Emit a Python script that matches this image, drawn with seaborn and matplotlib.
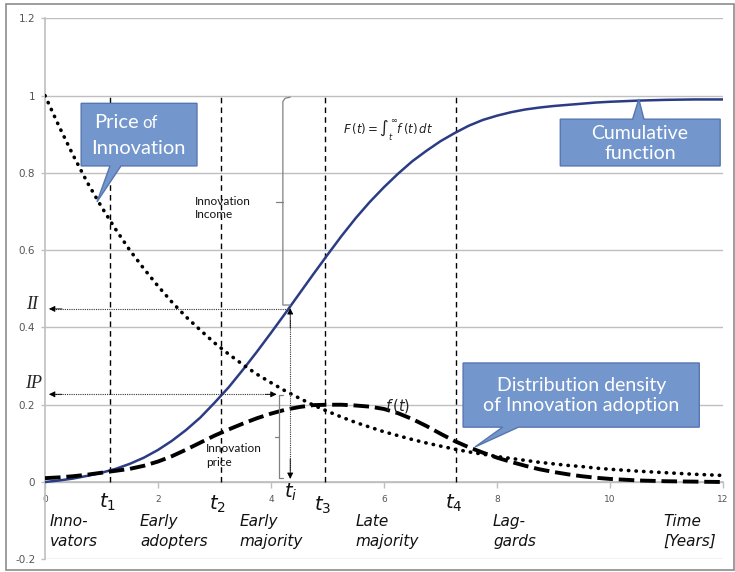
import matplotlib.pyplot as plt
import pandas as pd
import seaborn as sns
from matplotlib.patches import Polygon, Rectangle

# values
years = [0.0, 0.25, 0.5, 0.75, 1.0, 1.25, 1.5, 1.75, 2.0, 2.25, 2.5, 2.75,
         3.0, 3.25, 3.5, 3.75, 4.0, 4.25, 4.5, 4.75, 5.0, 5.25, 5.5, 5.75,
         6.0, 6.25, 6.5, 6.75, 7.0, 7.25, 7.5, 7.75, 8.0, 8.25, 8.5, 8.75,
         9.0, 9.25, 9.5, 9.75, 10.0, 10.5, 11.0, 11.5, 12.0]
cumulative = [0.0, 0.004, 0.009, 0.016, 0.024, 0.034, 0.047, 0.063, 0.083,
              0.107, 0.135, 0.167, 0.205, 0.245, 0.29, 0.337, 0.386, 0.436,
              0.487, 0.538, 0.588, 0.637, 0.683, 0.725, 0.763, 0.798, 0.83,
              0.857, 0.882, 0.903, 0.922, 0.937, 0.948, 0.957, 0.964, 0.969,
              0.973, 0.976, 0.979, 0.982, 0.984, 0.987, 0.989, 0.99, 0.99]
density = [0.01, 0.012, 0.015, 0.019, 0.024, 0.029, 0.034, 0.042, 0.053,
           0.067, 0.084, 0.102, 0.12, 0.136, 0.151, 0.165, 0.177, 0.187,
           0.194, 0.199, 0.2, 0.2, 0.198, 0.195, 0.189, 0.178, 0.163, 0.145,
           0.125, 0.106, 0.09, 0.076, 0.063, 0.052, 0.042, 0.033, 0.026,
           0.02, 0.015, 0.011, 0.008, 0.004, 0.002, 0.001, 0.0]
price = [1.0, 0.92, 0.845, 0.775, 0.712, 0.654, 0.6, 0.552, 0.507, 0.465,
         0.427, 0.393, 0.36, 0.331, 0.304, 0.279, 0.257, 0.236, 0.217, 0.199,
         0.183, 0.168, 0.154, 0.142, 0.13, 0.12, 0.11, 0.101, 0.093, 0.085,
         0.078, 0.072, 0.066, 0.061, 0.056, 0.051, 0.047, 0.043, 0.04, 0.036,
         0.033, 0.028, 0.024, 0.02, 0.017]

phase_bounds = [1.15, 3.11, 4.96, 7.28]
phase_subs = ["1", "2", "3", "4"]
t_i = 4.34
income_level = 0.448
price_level = 0.227

groups = ["Inno-\nvators", "Early\nadopters", "Early\nmajority",
          "Late\nmajority", "Lag-\ngards", "Time\n[Years]"]
group_x = [0.09, 1.68, 3.45, 5.49, 7.93, 10.94]

x_ticks = [0, 2, 4, 6, 8, 10, 12]
y_ticks = [-0.2, 0, 0.2, 0.4, 0.6, 0.8, 1.0, 1.2]
y_tick_labels = ["-0.2", "0", "0.2", "0.4", "0.6", "0.8", "1", "1.2"]

df = pd.DataFrame({"t": years, "F": cumulative, "f": density, "p": price})

sns.set_theme(style="white")
plt.rcParams["font.family"] = ["DejaVu Sans"]
plt.rcParams["mathtext.fontset"] = "dejavusans"

fig = plt.figure(figsize=(7.35, 5.72), dpi=100)
ax = fig.add_axes([45 / 735, 1 - 559.3 / 572, 678 / 735, 541 / 572])

grid_c = "#BFBFBF"
for yv in y_ticks:
    ax.axhline(yv, color=grid_c, lw=1, zorder=0)

# curves
sns.lineplot(data=df, x="t", y="F", ax=ax, color="#2B3C84", lw=1.8, zorder=4)
sns.lineplot(data=df, x="t", y="f", ax=ax, color="black", lw=2.8,
             linestyle=(0, (4, 1.5)), zorder=4)
sns.lineplot(data=df, x="t", y="p", ax=ax, color="black", lw=2.6,
             linestyle=(0, (0.1, 2)), dash_capstyle="round", zorder=4)

ax.vlines(phase_bounds, 0, 1, colors="black", lw=1, linestyles=(0, (4, 3)), zorder=3)

ax.set_xlim(0, 12)
ax.set_ylim(-0.2, 1.2)
ax.set_xlabel("")
ax.set_ylabel("")
ax.set_xticks(x_ticks)
ax.set_xticklabels([str(v) for v in x_ticks])
ax.set_yticks(y_ticks)
ax.set_yticklabels(y_tick_labels)
ax.tick_params(axis="x", length=4, width=1, color=grid_c, pad=5,
               labelsize=6.5, labelcolor="#555555", direction="out", bottom=True)
ax.tick_params(axis="y", length=3, width=1, color=grid_c, pad=4,
               labelsize=7.5, labelcolor="#555555", left=True)
for side in ["top", "right"]:
    ax.spines[side].set_visible(False)
ax.spines["bottom"].set_position(("data", 0))
ax.spines["bottom"].set_color(grid_c)
ax.spines["left"].set_color(grid_c)
ax.spines["left"].set_linewidth(1.2)

# dotted helper arrows
dot = dict(color="#333333", lw=0.8, linestyle=(0, (1, 1)), zorder=5)
ax.plot([0.1, t_i - 0.08], [income_level, income_level], **dot)
ax.plot([0.1, 4.05], [price_level, price_level], **dot)
ax.plot([t_i, t_i], [0.03, income_level - 0.03], **dot)

def head(tip, back):
    ax.annotate("", xy=tip, xytext=back,
                arrowprops=dict(arrowstyle="-|>", color="black", lw=0.6,
                                mutation_scale=9, shrinkA=0, shrinkB=0),
                zorder=6)

head((0.07, income_level), (0.3, income_level))
head((0.07, price_level), (0.3, price_level))
head((4.1, price_level), (3.9, price_level))
head((t_i, income_level + 0.002), (t_i, income_level - 0.05))
head((t_i, 0.008), (t_i, 0.06))

# braces
br = dict(color="#808080", lw=0.9, zorder=5)
ax.plot([4.34, 4.25, 4.21, 4.21, 4.34], [0.996, 0.993, 0.985, 0.458, 0.458], **br)
ax.plot([4.09, 4.21], [0.724, 0.724], **br)
ax.plot([4.21, 4.14, 4.14, 4.21], [0.225, 0.225, 0.01, 0.01], **br)
ax.plot([4.07, 4.14], [0.116, 0.116], **br)

# callout boxes
box_fc = "#7396CC"
box_ec = "#5676B2"

def callout(pts, xy, text, size=14):
    ax.add_patch(Polygon(pts, closed=True, fc=box_fc, ec=box_ec, lw=1, zorder=7))
    ax.text(xy[0], xy[1], text, ha="center", va="center", color="white",
            fontsize=size, family="Lato", linespacing=1.2, zorder=8)

callout([(0.64, 0.98), (2.69, 0.98), (2.69, 0.818), (1.345, 0.818),
         (0.92, 0.725), (1.15, 0.818), (0.64, 0.818)], (1.66, 0.93), "")
ax.text(1.66, 0.931, "Price", ha="right", va="center", color="white",
        fontsize=14.5, family="Lato", zorder=8)
ax.text(1.72, 0.928, "of", ha="left", va="center", color="white",
        fontsize=12, family="Lato", zorder=8)
ax.text(1.66, 0.862, "Innovation", ha="center", va="center", color="white",
        fontsize=14.5, family="Lato", zorder=8)

callout([(9.12, 0.939), (10.4, 0.939), (10.51, 0.991), (10.6, 0.939),
         (11.95, 0.939), (11.95, 0.818), (9.12, 0.818)],
        (10.53, 0.877), "Cumulative\nfunction")

callout([(7.4, 0.308), (11.58, 0.308), (11.58, 0.142), (8.38, 0.142),
         (7.61, 0.0906), (8.1, 0.142), (7.4, 0.142)],
        (9.49, 0.224), "Distribution density\nof Innovation adoption")

# small labels
ax.text(2.65, 0.709, "Innovation\nIncome", ha="left", va="center",
        fontsize=8.5, family="Lato", color="#111111", linespacing=1.3, zorder=6)
ax.text(2.85, 0.069, "Innovation\nprice", ha="left", va="center",
        fontsize=8.5, family="Lato", color="#111111", linespacing=1.3, zorder=6)
ax.text(6.07, 0.911, r"$F\,(t) = \int_{t}^{\infty} f\,(t)\,dt$", ha="center",
        va="center", fontsize=8.5, color="#222222", zorder=6)
ax.text(6.25, 0.197, r"$f\,(t)$", ha="center", va="center", fontsize=10.5,
        color="#222222", zorder=6)

ax.text(-0.23, 0.46, "II", ha="center", va="center", fontsize=13,
        family="Liberation Serif", style="italic", clip_on=False)
ax.text(-0.21, 0.254, "IP", ha="center", va="center", fontsize=13,
        family="Liberation Serif", style="italic", clip_on=False)

# time marks
for tx, sub, ty in zip(phase_bounds, phase_subs, [-0.052, -0.057, -0.06, -0.054]):
    ax.text(tx - 0.05, ty, r"$t_{\mathit{" + sub + "}}$", ha="center",
            va="center", fontsize=14, color="#111111")
ax.text(t_i, -0.028, r"$t_{\mathit{i}}$", ha="center", va="center",
        fontsize=14, color="#111111")

for gx, name in zip(group_x, groups):
    ax.text(gx, -0.128, name, ha="left", va="center", fontsize=11,
            style="italic", color="#111111", linespacing=1.35)

# outer frame of the picture
fig.add_artist(Rectangle((6 / 735, 2 / 572), 728 / 735, 566 / 572,
                         transform=fig.transFigure, fill=False,
                         ec="#8C8C8C", lw=1.2))

fig.savefig("out.png", dpi=100)
